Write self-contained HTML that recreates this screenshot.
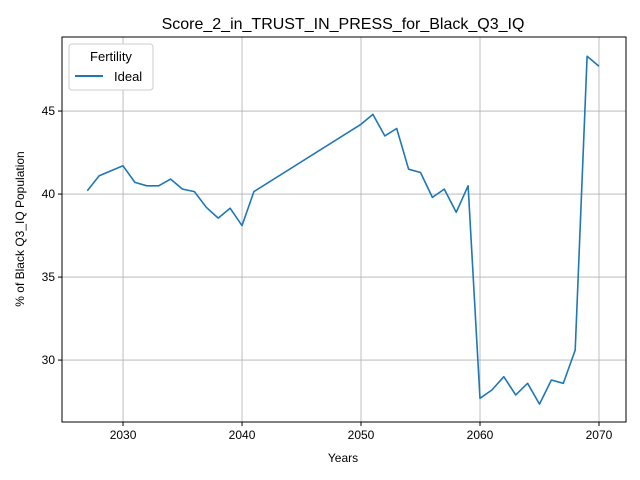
<!DOCTYPE html>
<html><head><meta charset="utf-8"><style>
html,body{margin:0;padding:0;background:#fff;}
svg{display:block;font-family:"Liberation Sans","DejaVu Sans",sans-serif;}
</style></head><body>
<svg id="chart" width="640" height="480">
<text x="343" y="29" font-size="16" text-anchor="middle">Score_2_in_TRUST_IN_PRESS_for_Black_Q3_IQ</text>
<g id="grid"></g><g id="plot"></g><g id="axes"></g>
<text x="343" y="462" font-size="12" text-anchor="middle">Years</text>
<text transform="translate(24,229) rotate(-90)" font-size="12" text-anchor="middle">% of Black Q3_IQ Population</text>
<g>
<rect x="69" y="44" width="84" height="46" rx="3" fill="#fff" stroke="#ccc"/>
<text x="111" y="61" font-size="13" text-anchor="middle">Fertility</text>
<line x1="75" y1="76" x2="103" y2="76" stroke="#1f77b4" stroke-width="2"/>
<text x="114" y="81" font-size="13">Ideal</text>
</g>
</svg>
<script>
const years=[2027,2028,2029,2030,2031,2032,2033,2034,2035,2036,2037,2038,2039,2040,2041,2050,2051,2052,2053,2054,2055,2056,2057,2058,2059,2060,2061,2062,2063,2064,2065,2066,2067,2068,2069,2070];
const values=[40.2,41.1,41.4,41.7,40.7,40.5,40.5,40.9,40.3,40.15,39.2,38.55,39.15,38.1,40.15,44.2,44.8,43.5,43.95,41.5,41.3,39.8,40.3,38.9,40.5,27.7,28.2,29.0,27.9,28.6,27.35,28.8,28.6,30.6,48.3,47.7];
const xTicks=[2030,2040,2050,2060,2070];
const yTicks=[30,35,40,45];
const L=62,R=626,T=37,B=422;
const xMin=2024.87,xMax=2072.27,yMin=26.27,yMax=49.46;
const sx=v=>L+(v-xMin)/(xMax-xMin)*(R-L);
const sy=v=>B-(v-yMin)/(yMax-yMin)*(B-T);
const NS="http://www.w3.org/2000/svg";
const grid=document.getElementById('grid'),axes=document.getElementById('axes'),plot=document.getElementById('plot');
function mk(tag,attrs,parent){const e=document.createElementNS(NS,tag);for(const k in attrs)e.setAttribute(k,attrs[k]);parent.appendChild(e);return e;}
xTicks.forEach(t=>{const x=sx(t);
const g=mk('line',{x1:x,x2:x,y1:T,y2:B,stroke:'#b0b0b0','stroke-width':0.8},grid);


mk('line',{x1:x,x2:x,y1:B,y2:B+4,stroke:'#000'},axes);
const tx=mk('text',{x:x,y:B+17,'font-size':12,'text-anchor':'middle'},axes);tx.textContent=t;

});
yTicks.forEach(t=>{const y=sy(t);
const g=mk('line',{x1:L,x2:R,y1:y,y2:y,stroke:'#b0b0b0','stroke-width':0.8},grid);


mk('line',{x1:L-4,x2:L,y1:y,y2:y,stroke:'#000'},axes);
const tx=mk('text',{x:L-7,y:y+4,'font-size':12,'text-anchor':'end'},axes);tx.textContent=t;

});
const fr=mk('rect',{x:L,y:T,width:R-L,height:B-T,fill:'none',stroke:'#000','stroke-width':1},axes);


const pts=years.map((y,i)=>sx(y).toFixed(1)+','+sy(values[i]).toFixed(1)).join(' ');
const pl=mk('polyline',{points:pts,fill:'none',stroke:'#1f77b4','stroke-width':1.6,'stroke-linejoin':'round'},plot);


</script>
</body></html>
